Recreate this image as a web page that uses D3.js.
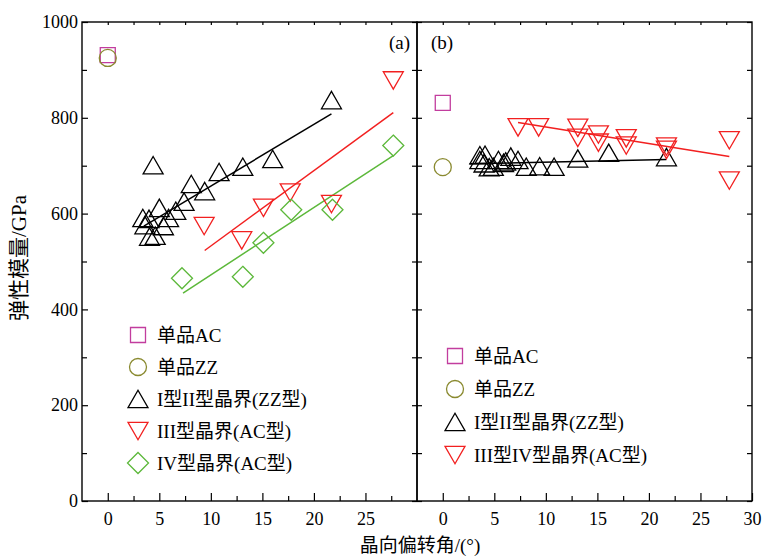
<!DOCTYPE html>
<html>
<head>
    <meta charset="utf-8">
    <title>弹性模量</title>
    <script src="https://d3js.org/d3.v7.min.js"></script>
    <style>
        body { margin: 0; background: #fff; }
        text { font-family: "Liberation Serif", "Noto Sans CJK SC", serif; }
    </style>
</head>
<body>
    <script>
        // values: [晶向偏转角, 弹性模量]
        const aSingleAC = [[0, 931]];
        const aSingleZZ = [[0, 925]];
        const aTypeI_II = [[3.4, 591], [3.6, 576], [4.0, 589], [4.05, 552], [4.4, 701], [4.6, 554],
            [5.0, 612], [5.4, 574], [5.9, 591], [6.6, 606], [7.4, 625], [8.1, 662], [9.4, 647],
            [10.8, 687], [13.1, 698], [16.0, 714], [21.7, 837]];
        const aTypeIII = [[9.35, 574], [13.0, 544], [15.1, 612], [17.7, 644], [21.7, 620], [27.7, 878]];
        const aTypeIV = [[7.2, 465], [13.1, 468], [15.1, 539], [17.8, 608], [21.8, 608], [27.7, 742]];
        const aFitI_II = [[3.5, 574], [21.7, 808]];
        const aFitIII = [[9.4, 523], [27.7, 811]];
        const aFitIV = [[7.3, 434], [27.7, 721]];

        const bSingleAC = [[0, 831]];
        const bSingleZZ = [[0, 697]];
        const bTypeI_II = [[3.6, 722], [3.6, 712], [4.0, 705], [4.1, 723], [4.5, 697], [4.9, 698],
            [5.4, 712], [5.9, 706], [6.1, 709], [6.6, 719], [7.3, 712], [8.1, 698], [9.4, 699],
            [10.8, 698], [13.1, 715], [16.1, 727], [21.7, 718]];
        const bTypeIII_IV = [[7.3, 780], [9.3, 780], [13.1, 779], [13.1, 758], [15.1, 765], [15.1, 748],
            [17.8, 757], [17.8, 742], [21.7, 740], [21.7, 733], [27.8, 753], [27.8, 669]];
        const bFitI_II = [[2.6, 704], [21.7, 713]];
        const bFitIII_IV = [[7.3, 790], [27.8, 719]];

        const xMajor = [0, 5, 10, 15, 20, 25, 30];
        const xMinor = [2.5, 7.5, 12.5, 17.5, 22.5, 27.5];
        const yMajor = [0, 200, 400, 600, 800, 1000];
        const yMinor = [100, 300, 500, 700, 900];

        const legendA = [
            {shape: "square", color: "#c23d9e", label: "单品AC"},
            {shape: "circle", color: "#8a8a30", label: "单品ZZ"},
            {shape: "up", color: "#000", label: "I型II型晶界(ZZ型)"},
            {shape: "down", color: "#f22020", label: "III型晶界(AC型)"},
            {shape: "diamond", color: "#5cb83a", label: "IV型晶界(AC型)"}
        ];
        const legendB = [
            {shape: "square", color: "#c23d9e", label: "单品AC"},
            {shape: "circle", color: "#8a8a30", label: "单品ZZ"},
            {shape: "up", color: "#000", label: "I型II型晶界(ZZ型)"},
            {shape: "down", color: "#f22020", label: "III型IV型晶界(AC型)"}
        ];

        const width = 766, height = 558;
        const plotTop = 22, plotBottom = 501;

        const svg = d3.select("body").append("svg")
            .attr("width", width)
            .attr("height", height);

        const y = d3.scaleLinear().domain([0, 1000]).range([plotBottom, plotTop]);
        const xA = d3.scaleLinear().domain([-2.5, 30]).range([82, 417]);
        const xB = d3.scaleLinear().domain([-2.5, 30]).range([417, 752]);

        // marker outlines, centred on the bounding box
        function marker(shape) {
            if (shape === "square") return "M-7.5,-7.5H7.5V7.5H-7.5Z";
            if (shape === "up") return "M0,-8.7L10,8.7L-10,8.7Z";
            if (shape === "down") return "M0,8.7L10,-8.7L-10,-8.7Z";
            if (shape === "diamond") return "M0,-10.5L10.5,0L0,10.5L-10.5,0Z";
            return d3.arc()({innerRadius: 0, outerRadius: 8.5, startAngle: 0, endAngle: 2 * Math.PI});
        }

        function drawPoints(x, data, shape, color) {
            svg.append("g").selectAll("path")
                .data(data)
                .enter().append("path")
                .attr("d", marker(shape))
                .attr("transform", d => "translate(" + x(d[0]) + "," + y(d[1]) + ")")
                .attr("fill", "none")
                .attr("stroke", color)
                .attr("stroke-width", 1.3);
        }

        function drawFit(x, data, color) {
            svg.append("path")
                .datum(data)
                .attr("d", d3.line().x(d => x(d[0])).y(d => y(d[1])))
                .attr("fill", "none")
                .attr("stroke", color)
                .attr("stroke-width", 1.5);
        }

        function drawAxes(x, labelsX, labelsY) {
            const r = x.range();
            // bottom
            const gb = svg.append("g").attr("transform", "translate(0," + plotBottom + ")");
            gb.call(d3.axisBottom(x).tickValues(labelsX).tickSize(-8).tickPadding(11).tickFormat(d3.format("d")));
            gb.append("g").call(d3.axisBottom(x).tickValues(xMinor).tickSize(-5).tickFormat(""));
            // top
            svg.append("g").attr("transform", "translate(0," + plotTop + ")")
                .call(d3.axisTop(x).tickValues(xMajor.concat(xMinor).filter(v => v < 30)).tickSize(-3).tickFormat(""));
            // left
            const gl = svg.append("g").attr("transform", "translate(" + r[0] + ",0)");
            if (labelsY) {
                gl.call(d3.axisLeft(y).tickValues(yMajor).tickSize(-6).tickPadding(4).tickFormat(d3.format("d")));
            } else {
                gl.call(d3.axisLeft(y).tickValues(yMajor).tickSize(-5).tickFormat(""));
            }
            gl.append("g").call(d3.axisLeft(y).tickValues(yMinor).tickSize(-5).tickFormat(""));
            // right
            svg.append("g").attr("transform", "translate(" + r[1] + ",0)")
                .call(d3.axisRight(y).tickValues(yMajor.concat(yMinor)).tickSize(-5).tickFormat(""));

            svg.selectAll(".domain").remove();
            svg.selectAll(".tick line").attr("stroke", "#000").attr("stroke-width", 1.2);
            svg.selectAll(".tick text").attr("font-size", 18).attr("fill", "#000")
                .style("font-family", "'Liberation Serif', serif");

            svg.append("rect")
                .attr("x", r[0]).attr("y", plotTop)
                .attr("width", r[1] - r[0]).attr("height", plotBottom - plotTop)
                .attr("fill", "none").attr("stroke", "#000").attr("stroke-width", 1.4);
        }

        function drawLegend(items, x0, y0, step) {
            const g = svg.append("g").attr("transform", "translate(" + x0 + "," + y0 + ")");
            items.forEach(function(d, i) {
                g.append("path")
                    .attr("d", marker(d.shape))
                    .attr("transform", "translate(0," + (i * step) + ")")
                    .attr("fill", "none")
                    .attr("stroke", d.color)
                    .attr("stroke-width", 1.3);
                g.append("text")
                    .attr("x", 19)
                    .attr("y", i * step)
                    .attr("dy", "0.35em")
                    .attr("font-size", 19)
                    .text(d.label);
            });
        }

        drawAxes(xA, xMajor.filter(v => v < 30), true);
        drawAxes(xB, xMajor, false);

        // panel (a)
        drawFit(xA, aFitI_II, "#000");
        drawFit(xA, aFitIII, "#f22020");
        drawFit(xA, aFitIV, "#5cb83a");
        drawPoints(xA, aSingleAC, "square", "#c23d9e");
        drawPoints(xA, aSingleZZ, "circle", "#8a8a30");
        drawPoints(xA, aTypeI_II, "up", "#000");
        drawPoints(xA, aTypeIII, "down", "#f22020");
        drawPoints(xA, aTypeIV, "diamond", "#5cb83a");

        // panel (b)
        drawFit(xB, bFitI_II, "#000");
        drawFit(xB, bFitIII_IV, "#f22020");
        drawPoints(xB, bSingleAC, "square", "#c23d9e");
        drawPoints(xB, bSingleZZ, "circle", "#8a8a30");
        drawPoints(xB, bTypeI_II, "up", "#000");
        drawPoints(xB, bTypeIII_IV, "down", "#f22020");

        drawLegend(legendA, 138, 335, 32);
        drawLegend(legendB, 455, 356, 33);

        svg.append("text").attr("x", 410).attr("y", 49).attr("text-anchor", "end")
            .attr("font-size", 19).text("(a)");
        svg.append("text").attr("x", 431).attr("y", 49)
            .attr("font-size", 19).text("(b)");

        // axis titles
        svg.append("text")
            .attr("x", 420).attr("y", 552)
            .attr("text-anchor", "middle")
            .attr("font-size", 19)
            .text("晶向偏转角/(°)");
        svg.append("text")
            .attr("transform", "translate(26,258) rotate(-90)")
            .attr("text-anchor", "middle")
            .attr("font-size", 21)
            .text("弹性模量/GPa");
    </script>
</body>
</html>
